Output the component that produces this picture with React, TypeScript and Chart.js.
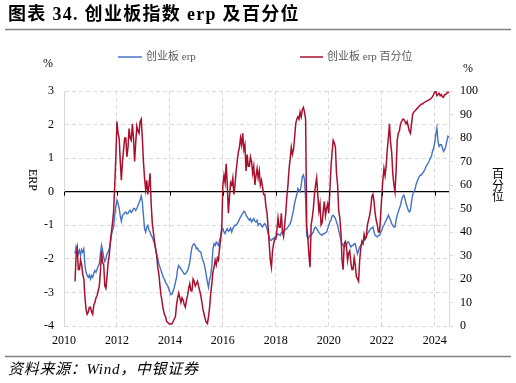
import React, { useEffect, useRef } from 'react';
import { Chart, registerables } from 'chart.js';

Chart.register(...registerables);

// ---------- data (twice a month, from 2010-06 to 2024-07) ----------
const START_YEAR = 2010;
const START_MONTH = 6;
const POINTS_PER_MONTH = 2;

const erpValues: number[] = [
  // 2010 Jun-Dec
  -1.85, -1.62, -1.68, -1.85, -1.75, -1.9, -1.72, -1.8, -1.7, -2.2, -2.4, -2.5, -2.55, -2.48,
  // 2011
  -2.6, -2.5, -2.55, -2.42, -2.35, -2.4, -2.3, -2.22, -2.15, -1.85, -1.6, -1.75,
  -1.95, -2.08, -2.0, -1.85, -1.8, -1.7, -1.55, -1.3, -1.15, -1.05, -0.7, -0.45,
  // 2012
  -0.25, -0.35, -0.5, -0.72, -0.88, -0.7, -0.68, -0.62, -0.6, -0.66, -0.65, -0.58,
  -0.55, -0.62, -0.58, -0.5, -0.5, -0.56, -0.5, -0.42, -0.33, -0.25, -0.13, -0.3,
  // 2013
  -0.7, -1.1, -1.2, -1.05, -1.0, -1.15, -1.2, -1.3, -1.35, -1.45, -1.55, -1.7,
  -1.85, -2.0, -2.15, -2.25, -2.35, -2.45, -2.55, -2.6, -2.7, -2.75, -2.8, -2.9,
  // 2014
  -3.0, -3.07, -3.05, -2.95, -2.85, -2.7, -2.55, -2.3, -2.2, -2.25, -2.3, -2.35,
  -2.4, -2.45, -2.45, -2.4, -2.35, -2.25, -2.1, -1.85, -1.65, -1.58, -1.55, -1.6,
  // 2015
  -1.7, -1.68, -1.75, -1.78, -1.8, -1.95, -2.05, -2.15, -2.3, -2.5, -2.7, -2.85,
  -2.6, -2.5, -2.2, -1.7, -1.55, -1.6, -1.5, -1.55, -1.6, -1.45, -1.35, -1.15,
  // 2016
  -1.1, -1.2, -1.25, -1.15, -1.1, -1.18, -1.15, -1.08, -1.2, -1.1, -1.05, -1.0,
  -1.0, -0.95, -0.9, -0.82, -0.75, -0.7, -0.65, -0.58, -0.6, -0.7, -0.75, -0.8,
  // 2017
  -0.85, -0.8, -0.9, -0.85, -0.8, -0.88, -0.9, -0.85, -1.0, -0.95, -0.95, -1.02,
  -1.05, -0.98, -0.95, -1.0, -1.1, -1.25, -1.35, -1.45, -1.45, -1.4, -1.4, -1.35,
  // 2018
  -1.35, -1.3, -1.25, -1.28, -1.3, -1.22, -1.2, -1.18, -1.15, -1.12, -1.1, -1.05,
  -1.0, -0.95, -0.85, -0.7, -0.55, -0.35, -0.2, -0.1, 0.1, 0.05, 0.0, 0.2,
  // 2019
  0.45, 0.5, 0.35, -0.2, -1.3, -1.4, -1.35, -1.3, -1.3, -1.25, -1.2, -1.1,
  -1.05, -1.1, -1.15, -1.22, -1.25, -1.28, -1.3, -1.25, -1.25, -1.22, -1.2, -1.1,
  // 2020
  -1.0, -0.9, -0.85, -0.72, -0.7, -0.75, -0.8, -0.9, -1.0, -1.15, -1.3, -1.45,
  -1.55, -1.6, -1.65, -1.62, -1.6, -1.5, -1.5, -1.58, -1.65, -1.6, -1.6, -1.55,
  // 2021
  -1.55, -1.7, -1.85, -1.75, -1.65, -1.6, -1.55, -1.5, -1.45, -1.4, -1.35, -1.25,
  -1.2, -1.15, -1.1, -1.08, -1.05, -1.2, -1.3, -1.32, -1.35, -1.3, -1.3, -1.2,
  // 2022
  -1.15, -1.05, -1.0, -0.92, -0.85, -0.78, -0.7, -0.78, -0.85, -0.95, -1.0, -1.05,
  -1.05, -0.85, -0.7, -0.6, -0.5, -0.4, -0.25, -0.15, -0.1, -0.2, -0.35, -0.45,
  // 2023
  -0.55, -0.6, -0.55, -0.3, -0.1, 0.0, 0.05, 0.2, 0.3, 0.38, 0.45, 0.5,
  0.5, 0.55, 0.6, 0.65, 0.75, 0.8, 0.85, 0.92, 1.0, 1.05, 1.2, 1.3,
  // 2024 Jan-Jul
  1.45, 1.7, 1.9, 1.5, 1.35, 1.4, 1.4, 1.3, 1.2, 1.25, 1.35, 1.5, 1.65, 1.62,
];

const pctValues: number[] = [
  // 2010 Jun-Dec
  19, 30, 33, 24, 24, 28, 26, 22, 20, 12, 7, 5, 6, 8,
  // 2011
  8, 6, 5, 9, 10, 12, 13, 15, 17, 23, 32, 27,
  26, 17, 16, 21, 27, 30, 36, 40, 44, 49, 60, 72,
  // 2012
  87, 82, 80, 70, 62, 70, 75, 80, 80, 72, 76, 84,
  80, 79, 86, 80, 70, 78, 85, 83, 82, 87, 88, 80,
  // 2013
  70, 63, 58, 62, 56, 60, 65, 52, 44, 40, 36, 33,
  30, 25, 22, 17, 13, 10, 7, 5, 4, 2, 1.5, 1,
  // 2014
  1, 0.8, 1, 2, 3, 4, 9, 12, 14, 12, 10, 12,
  11, 9, 8, 11, 13, 16, 18, 15, 15, 20, 19, 17,
  // 2015
  18, 19, 17, 15, 13, 10, 7, 5, 3, 1.5, 1, 4,
  8, 14, 18, 23, 25, 28, 26, 29, 28, 33, 37, 42,
  // 2016
  60, 64, 61, 69, 60, 48, 55, 61, 60, 63, 56, 60,
  66, 70, 74, 76, 80, 77, 82, 75, 77, 66, 73, 68,
  // 2017
  68, 72, 70, 65, 68, 60, 64, 67, 63, 66, 60, 62,
  59, 56, 56, 51, 48, 42, 35, 28, 25, 32, 35, 37,
  // 2018
  37, 41, 46, 42, 42, 48, 40, 38, 43, 48, 55, 60,
  67, 71, 76, 73, 75, 80, 86, 88, 89, 88, 91, 89,
  // 2019
  92, 93, 91, 88, 42, 38, 30, 25, 43, 46, 50, 56,
  60, 63, 56, 49, 52, 43, 44, 49, 53, 47, 50, 52,
  // 2020
  48, 58, 68, 74, 79, 78, 76, 65, 60, 49, 46, 40,
  28, 24, 35, 36, 34, 28, 31, 32, 27, 24, 24, 29,
  // 2021
  26, 21, 20, 19, 28, 33, 36, 35, 39, 37, 38, 43,
  45, 47, 50, 55, 56, 53, 48, 45, 43, 40, 40, 47,
  // 2022
  55, 62, 67, 64, 68, 75, 80, 86, 78, 74, 65, 60,
  57, 66, 79, 82, 83, 86, 87, 88, 88, 87, 86, 87,
  // 2023
  85, 83, 82, 86, 90, 91, 91.5, 92, 92.5, 93, 93.5, 94,
  94.5, 94.5, 95, 95.3, 95.5, 95.8, 96, 96.3, 96.5, 97, 97.5, 98.5,
  // 2024 Jan-Jul
  99.5, 100, 98, 98.5, 99, 98, 98.5, 97.5, 97.3, 98.5, 98.5, 99, 99.5, 99.4,
];

const xTickYears: number[] = [2010, 2012, 2014, 2016, 2018, 2020, 2022, 2024];
const seriesNames: string[] = ['创业板 erp', '创业板 erp 百分位'];
const seriesColors: string[] = ['#4472C4', '#A8102E'];
const titleText = '图表 34. 创业板指数 erp 及百分位';
const sourceText = '资料来源：Wind，中银证券';
const leftAxisName = 'ERP';
const rightAxisName = ['百', '分', '位'];
const unitText = '%';

// ---------- helpers ----------
const SERIF = '"Liberation Serif", "Times New Roman", "Noto Sans CJK SC", serif';

function samplePositions(n: number): number[] {
  const out: number[] = [];
  for (let i = 0; i < n; i++) {
    const m = START_MONTH - 1 + i / POINTS_PER_MONTH;
    out.push(START_YEAR + m / 12);
  }
  return out;
}

function seg(ctx: CanvasRenderingContext2D, x1: number, y1: number, x2: number, y2: number) {
  ctx.beginPath();
  ctx.moveTo(x1, y1);
  ctx.lineTo(x2, y2);
  ctx.stroke();
}

const decorPlugin = {
  id: 'decor',
  beforeDraw(chart: any) {
    const { ctx, width, height } = chart;
    ctx.save();
    ctx.fillStyle = '#ffffff';
    ctx.fillRect(0, 0, width, height);
    ctx.restore();
  },
  afterDraw(chart: any) {
    const ctx: any = chart.ctx;
    const xs = chart.scales.x;
    const ys = chart.scales.y;
    ctx.save();

    // title
    ctx.fillStyle = '#000000';
    ctx.font = `bold 18px ${SERIF}`;
    ctx.textAlign = 'left';
    ctx.textBaseline = 'middle';
    ctx.letterSpacing = '1.3px';
    ctx.fillText(titleText, 8, 15);
    ctx.letterSpacing = '0px';

    // rules
    ctx.strokeStyle = '#808080';
    ctx.lineWidth = 1.5;
    seg(ctx, 5, 29.5, 511, 29.5);
    seg(ctx, 5, 356.5, 511, 356.5);

    // legend
    const ds = chart.data.datasets;
    const legendPos = [
      { x1: 118, x2: 142, tx: 146 },
      { x1: 300, x2: 323, tx: 327 },
    ];
    ctx.font = `11px ${SERIF}`;
    ctx.textBaseline = 'middle';
    ds.forEach((d: any, i: number) => {
      const p = legendPos[i];
      ctx.strokeStyle = d.borderColor;
      ctx.lineWidth = 1.5;
      seg(ctx, p.x1, 57, p.x2, 57);
      ctx.fillStyle = '#595959';
      ctx.fillText(d.label, p.tx, 57);
    });

    // units
    ctx.fillStyle = '#000000';
    ctx.font = `12px ${SERIF}`;
    ctx.textAlign = 'center';
    ctx.fillText(unitText, 48, 64);
    ctx.fillText(unitText, 468, 68.5);

    // left axis name, rotated clockwise
    ctx.save();
    ctx.translate(32, 180);
    ctx.rotate(Math.PI / 2);
    ctx.font = `12px ${SERIF}`;
    ctx.textAlign = 'center';
    ctx.textBaseline = 'middle';
    ctx.fillText(leftAxisName, 0, 0);
    ctx.restore();

    // right axis name, stacked
    ctx.font = `12px ${SERIF}`;
    ctx.textAlign = 'center';
    rightAxisName.forEach((c, i) => ctx.fillText(c, 498, 175 + i * 11.5));

    // tick marks on the zero line
    const y0 = ys.getPixelForValue(0);
    ctx.strokeStyle = '#000000';
    ctx.lineWidth = 1;
    xTickYears.forEach((t) => {
      const px = Math.round(xs.getPixelForValue(t)) + 0.5;
      seg(ctx, px, y0, px, y0 + 4);
    });

    // source
    ctx.fillStyle = '#000000';
    ctx.font = `italic 15px ${SERIF}`;
    ctx.textAlign = 'left';
    ctx.textBaseline = 'middle';
    ctx.letterSpacing = '0.7px';
    ctx.fillText(sourceText, 8, 370);
    ctx.letterSpacing = '0px';

    ctx.restore();
  },
};

export default function App() {
  const canvasRef = useRef<HTMLCanvasElement | null>(null);

  useEffect(() => {
    const canvas = canvasRef.current;
    if (!canvas) return;
    const xs = samplePositions(erpValues.length);
    const erpPoints = erpValues.map((v, i) => ({ x: xs[i], y: v }));
    const pctPoints = pctValues.map((v, i) => ({ x: xs[i], y: v }));

    const chart = new Chart(canvas, {
      type: 'line',
      data: {
        datasets: [
          {
            label: seriesNames[0],
            data: erpPoints,
            yAxisID: 'y',
            borderColor: seriesColors[0],
            borderWidth: 1.4,
            pointRadius: 0,
            tension: 0,
            order: 2,
          },
          {
            label: seriesNames[1],
            data: pctPoints,
            yAxisID: 'y1',
            borderColor: seriesColors[1],
            borderWidth: 1.5,
            pointRadius: 0,
            tension: 0,
            order: 1,
          },
        ],
      },
      options: {
        animation: false,
        responsive: false,
        devicePixelRatio: 1,
        layout: { padding: { top: 91, left: 0, right: 0, bottom: 0 } },
        plugins: {
          legend: { display: false },
          title: { display: false },
          tooltip: { enabled: false },
        },
        scales: {
          x: {
            type: 'linear',
            min: 2010,
            max: 2024.54,
            afterBuildTicks: (s: any) => {
              s.ticks = xTickYears.map((v) => ({ value: v }));
            },
            afterFit: (s: any) => {
              s.height = 57;
            },
            grid: { color: '#d9d9d9', lineWidth: 1, drawTicks: false },
            border: { display: false, dash: [4, 3] },
            ticks: {
              padding: 8,
              color: '#000000',
              font: { family: SERIF, size: 12 },
              maxRotation: 0,
              autoSkip: false,
              callback: (v: any) => String(v),
            },
          },
          y: {
            type: 'linear',
            position: 'left',
            min: -4,
            max: 3,
            afterFit: (s: any) => {
              s.width = 64;
            },
            grid: {
              color: (c: any) => (c.tick && c.tick.value === 0 ? '#000000' : '#d9d9d9'),
              lineWidth: (c: any) => (c.tick && c.tick.value === 0 ? 1.3 : 1),
              drawTicks: false,
            },
            border: {
              display: true,
              color: '#d9d9d9',
              width: 1,
              dash: (c: any) => (c.tick && c.tick.value === 0 ? [] : [4, 3]),
            },
            ticks: {
              stepSize: 1,
              padding: 10,
              color: '#000000',
              font: { family: SERIF, size: 12 },
              callback: (v: any) => String(v),
            },
          },
          y1: {
            type: 'linear',
            position: 'right',
            min: 0,
            max: 100,
            afterFit: (s: any) => {
              s.width = 67;
            },
            grid: {
              drawOnChartArea: false,
              drawTicks: true,
              tickLength: 4,
              tickColor: '#d9d9d9',
              color: '#d9d9d9',
            },
            border: { display: true, color: '#d9d9d9', width: 1 },
            ticks: {
              stepSize: 10,
              padding: 7,
              color: '#000000',
              font: { family: SERIF, size: 12 },
              callback: (v: any) => String(v),
            },
          },
        },
      },
      plugins: [decorPlugin],
    } as any);

    return () => {
      chart.destroy();
    };
  }, []);

  return (
    <canvas
      ref={canvasRef}
      width={516}
      height={383}
      style={{ position: 'absolute', left: 0, top: 0, width: '516px', height: '383px' }}
    />
  );
}
